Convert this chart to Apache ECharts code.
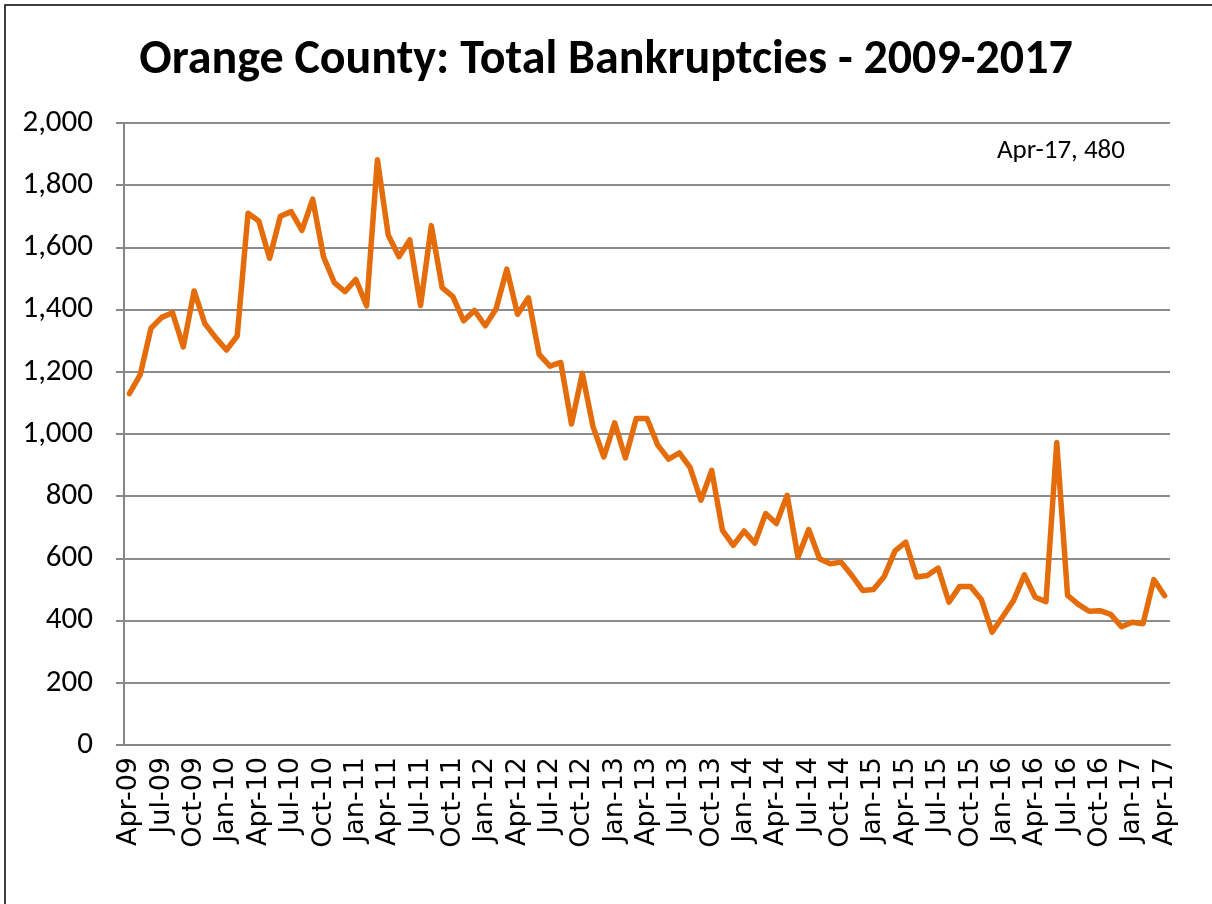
<!DOCTYPE html>
<html>
<head>
<meta charset="utf-8">
<script src="https://cdn.jsdelivr.net/npm/echarts@6/dist/echarts.min.js"></script>
<style>
  html, body { margin: 0; padding: 0; background: #fff; }
  #chart { width: 1212px; height: 904px; }
</style>
</head>
<body>
<div id="chart"></div>
<script>
// monthly categories Apr-09 .. Apr-17
const months = [
  'Apr-09','May-09','Jun-09','Jul-09','Aug-09','Sep-09','Oct-09','Nov-09','Dec-09',
  'Jan-10','Feb-10','Mar-10','Apr-10','May-10','Jun-10','Jul-10','Aug-10','Sep-10','Oct-10','Nov-10','Dec-10',
  'Jan-11','Feb-11','Mar-11','Apr-11','May-11','Jun-11','Jul-11','Aug-11','Sep-11','Oct-11','Nov-11','Dec-11',
  'Jan-12','Feb-12','Mar-12','Apr-12','May-12','Jun-12','Jul-12','Aug-12','Sep-12','Oct-12','Nov-12','Dec-12',
  'Jan-13','Feb-13','Mar-13','Apr-13','May-13','Jun-13','Jul-13','Aug-13','Sep-13','Oct-13','Nov-13','Dec-13',
  'Jan-14','Feb-14','Mar-14','Apr-14','May-14','Jun-14','Jul-14','Aug-14','Sep-14','Oct-14','Nov-14','Dec-14',
  'Jan-15','Feb-15','Mar-15','Apr-15','May-15','Jun-15','Jul-15','Aug-15','Sep-15','Oct-15','Nov-15','Dec-15',
  'Jan-16','Feb-16','Mar-16','Apr-16','May-16','Jun-16','Jul-16','Aug-16','Sep-16','Oct-16','Nov-16','Dec-16',
  'Jan-17','Feb-17','Mar-17','Apr-17'
]

// total bankruptcies per month
const bankruptcies = [
  1130, 1190, 1340, 1375, 1390, 1280, 1460, 1355, 1310,
  1270, 1315, 1710, 1685, 1565, 1700, 1715, 1655, 1755, 1570, 1487, 1458,
  1497, 1412, 1882, 1640, 1570, 1624, 1413, 1670, 1471, 1442, 1364, 1397,
  1348, 1402, 1530, 1385, 1438, 1256, 1218, 1230, 1032, 1195, 1023, 926,
  1036, 923, 1050, 1050, 964, 919, 939, 892, 787, 883, 690, 642,
  688, 649, 744, 712, 803, 604, 693, 599, 583, 588, 545, 497,
  500, 542, 624, 652, 540, 545, 569, 459, 510, 510, 468, 363,
  413, 465, 547, 475, 461, 973, 481, 452, 430, 432, 420, 380,
  395, 390, 532, 480
]

const yTicks = [0, 200, 400, 600, 800, 1000, 1200, 1400, 1600, 1800, 2000]

const lastIdx = bankruptcies.length - 1
const lastLabel = months[lastIdx] + ', ' + bankruptcies[lastIdx]

const chart = echarts.init(document.getElementById('chart'))

const option = {
  animation: false,
  backgroundColor: '#fff',
  title: {
    text: 'Orange County: Total Bankruptcies - 2009-2017',
    left: 'center',
    top: 32,
    textStyle: {
      fontFamily: 'Carlito, Lato, "Open Sans", sans-serif',
      fontWeight: 'bold',
      fontSize: 48,
      color: '#000'
    }
  },
  grid: {
    left: 124,
    right: 42,
    top: 123,
    bottom: 159
  },
  xAxis: {
    type: 'category',
    data: months,
    boundaryGap: true,
    axisLine: { lineStyle: { color: '#868686', width: 2 } },
    axisTick: { interval: 2, length: 8, lineStyle: { color: '#868686', width: 2 } },
    axisLabel: {
      interval: 2,
      rotate: 90,
      margin: 12,
      fontFamily: '"DejaVu Sans", sans-serif',
      fontSize: 27,
      color: '#000'
    },
    splitLine: { show: false }
  },
  yAxis: {
    type: 'value',
    min: yTicks[0],
    max: yTicks[yTicks.length - 1],
    interval: 200,
    axisLine: { show: true, lineStyle: { color: '#868686', width: 2 } },
    axisTick: { show: true, length: 8, lineStyle: { color: '#868686', width: 2 } },
    axisLabel: {
      margin: 31,
      fontFamily: 'Carlito, "Open Sans", sans-serif',
      fontSize: 31,
      color: '#000',
      formatter: v => v.toLocaleString('en-US')
    },
    splitLine: { lineStyle: { color: '#8c8c8c', width: 2 } }
  },
  series: [
    {
      type: 'line',
      data: bankruptcies,
      showSymbol: false,
      lineStyle: { color: '#E46C0A', width: 5.5, join: 'round', cap: 'round' },
      itemStyle: { color: '#E46C0A' }
    }
  ],
  graphic: [
    {
      type: 'rect',
      shape: { x: 5, y: 5, width: 1300, height: 1000 },
      style: { fill: 'none', stroke: '#000', lineWidth: 1.5 }
    },
    {
      type: 'text',
      left: 997,
      top: 138,
      style: {
        text: lastLabel,
        font: '27px Carlito, "Open Sans", sans-serif',
        fill: '#000'
      }
    }
  ]
}

chart.setOption(option)
</script>
</body>
</html>
